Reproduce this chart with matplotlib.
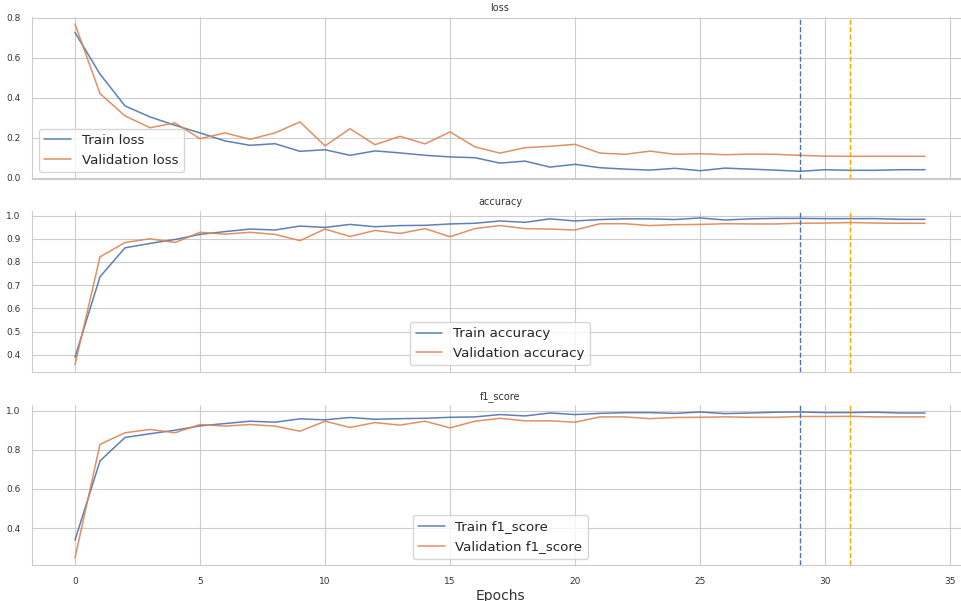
import matplotlib
matplotlib.use('Agg')
import matplotlib.pyplot as plt
import seaborn as sns

epochs = list(range(35))

train_loss = [0.726, 0.518, 0.359, 0.304, 0.262, 0.224, 0.184, 0.162, 0.170, 0.132,
              0.140, 0.112, 0.134, 0.124, 0.112, 0.104, 0.100, 0.073, 0.083, 0.053,
              0.067, 0.050, 0.043, 0.038, 0.047, 0.035, 0.048, 0.043, 0.038, 0.032,
              0.040, 0.037, 0.037, 0.040, 0.040]
val_loss = [0.768, 0.421, 0.309, 0.250, 0.274, 0.195, 0.224, 0.192, 0.224, 0.279,
            0.159, 0.245, 0.165, 0.207, 0.169, 0.229, 0.154, 0.123, 0.150, 0.157,
            0.167, 0.123, 0.117, 0.133, 0.117, 0.120, 0.115, 0.118, 0.117, 0.112,
            0.108, 0.107, 0.107, 0.107, 0.107]

train_acc = [0.389, 0.736, 0.861, 0.880, 0.897, 0.919, 0.931, 0.942, 0.938, 0.955,
             0.949, 0.962, 0.952, 0.957, 0.958, 0.964, 0.967, 0.977, 0.971, 0.986,
             0.977, 0.983, 0.986, 0.986, 0.983, 0.990, 0.981, 0.986, 0.988, 0.988,
             0.987, 0.987, 0.987, 0.984, 0.984]
val_acc = [0.357, 0.822, 0.884, 0.900, 0.884, 0.928, 0.920, 0.928, 0.919, 0.892,
           0.942, 0.910, 0.936, 0.923, 0.944, 0.909, 0.944, 0.957, 0.944, 0.942,
           0.938, 0.965, 0.965, 0.957, 0.961, 0.962, 0.965, 0.964, 0.964, 0.967,
           0.968, 0.970, 0.968, 0.967, 0.967]

train_f1 = [0.339, 0.743, 0.863, 0.882, 0.900, 0.922, 0.934, 0.946, 0.941, 0.958,
            0.953, 0.965, 0.956, 0.959, 0.961, 0.966, 0.968, 0.980, 0.973, 0.988,
            0.980, 0.986, 0.990, 0.990, 0.986, 0.993, 0.985, 0.988, 0.992, 0.993,
            0.990, 0.990, 0.992, 0.988, 0.988]
val_f1 = [0.248, 0.828, 0.887, 0.904, 0.887, 0.929, 0.921, 0.929, 0.921, 0.895,
          0.946, 0.914, 0.939, 0.926, 0.946, 0.912, 0.946, 0.961, 0.948, 0.948,
          0.941, 0.968, 0.968, 0.959, 0.965, 0.966, 0.968, 0.966, 0.966, 0.970,
          0.970, 0.971, 0.968, 0.968, 0.968]

best_train_epoch = 29
best_val_epoch = 31

paineis = [
    ('loss', train_loss, val_loss, 'lower left'),
    ('accuracy', train_acc, val_acc, 'lower center'),
    ('f1_score', train_f1, val_f1, 'lower center'),
]

sns.set_style('whitegrid')
plt.rcParams['font.family'] = ['DejaVu Sans']

azul = '#4c72b0'
laranja = '#dd8452'

fig = plt.figure(figsize=(9.61, 6.01), dpi=100)
posicoes = [
    [0.0338, 0.7027, 0.973, 0.2695],
    [0.0338, 0.3810, 0.973, 0.2686],
    [0.0338, 0.0596, 0.973, 0.2670],
]

eixos = []
for i, (nome, tr, va, loc) in enumerate(paineis):
    ax = fig.add_axes(posicoes[i])
    ax.plot(epochs, tr, color=azul, linewidth=1.1, alpha=0.9, label='Train ' + nome)
    ax.plot(epochs, va, color=laranja, linewidth=1.1, alpha=0.9, label='Validation ' + nome)
    ax.axvline(best_train_epoch, color=azul, linestyle='--', linewidth=1.0)
    ax.axvline(best_val_epoch, color='orange', linestyle='--', linewidth=1.0)
    ax.set_title(nome, fontsize=7, color='#333333', pad=4)
    ax.tick_params(labelsize=6.5, colors='#333333', pad=5)
    ax.legend(loc=loc, fontsize=9.6)
    ax.set_xlim(-1.7, 35.7)
    sns.despine(ax=ax)
    if i < 2:
        ax.set_xticklabels([])
    eixos.append(ax)

eixos[-1].set_xlabel('Epochs', fontsize=10, color='#333333', labelpad=2)

fig.savefig('out.png', dpi=100)
